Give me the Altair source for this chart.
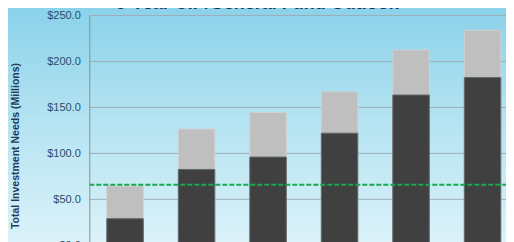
import altair as alt
import pandas as pd

years = ["FY 2014", "FY 2015", "FY 2016", "FY 2017", "FY 2018", "FY 2019"]
dark_vals = [29.0, 82.5, 96.0, 122.0, 163.5, 182.5]
total_vals = [64.5, 126.5, 144.5, 167.0, 212.5, 234.0]
threshold = [66.0]
y_ticks = [0, 50, 100, 150, 200, 250]
chart_title = "5-Year CIP/General Fund Outlook"
y_title = "Total Investment Needs (Millions)"

df = pd.DataFrame({"year": years, "dark": dark_vals, "total": total_vals})
df_rule = pd.DataFrame({"v": threshold})
df_grid = pd.DataFrame({"g": y_ticks})

PL = 81.3
PT = 7.5
W = 498 - PL
H = 226.5

x_scale = alt.Scale(domain=years, range=[0, 429], paddingInner=0.49, paddingOuter=0.245)
y_scale = alt.Scale(domain=[0, 250], range=[229.8, 0], nice=False, zero=True)

one = pd.DataFrame({"a": [0]})

bg = alt.Chart(one).mark_rect(
    color=alt.LinearGradient(
        gradient="linear",
        stops=[
            alt.GradientStop(color="#8ad2ea", offset=0),
            alt.GradientStop(color="#b2e2f1", offset=0.45),
            alt.GradientStop(color="#dbf2f9", offset=1),
        ],
        x1=0, x2=0, y1=0, y2=1,
    )
).encode(
    x=alt.value(-PL), x2=alt.value(W),
    y=alt.value(-PT), y2=alt.value(H),
)

corner = alt.Chart(one).mark_rect(
    color=alt.RadialGradient(
        gradient="radial",
        stops=[
            alt.GradientStop(color="rgba(22,128,204,0.95)", offset=0),
            alt.GradientStop(color="rgba(22,128,204,0.4)", offset=0.5),
            alt.GradientStop(color="rgba(22,128,204,0)", offset=1),
        ],
        x1=1, y1=0, x2=1, y2=0, r1=0, r2=0.13,
    )
).encode(
    x=alt.value(-PL), x2=alt.value(W),
    y=alt.value(-PT), y2=alt.value(H),
)

grid = alt.Chart(df_grid).mark_rule(color="#9eaeb7", strokeWidth=1).encode(
    y=alt.Y("g:Q", scale=y_scale),
    x=alt.value(0), x2=alt.value(W),
)

y_axis = alt.Axis(
    values=y_ticks, format="$,.1f", title=y_title,
    grid=False, zindex=1,
    domain=True, domainColor="#8a8f93", domainWidth=1,
    ticks=False, labelPadding=9,
    labelFont="Liberation Sans", labelFontSize=11, labelColor="#2b4c6d",
    titleFont="Liberation Sans", titleFontSize=10.5, titleFontWeight="bold", titleColor="#1f3c5c",
    titleAngle=-90, titleX=-74, titleY=130, titleAlign="center", titleBaseline="middle",
)

base = alt.Chart(df)

gray_bars = base.mark_bar(color="#bfbfbf", stroke="#cdd1d3", strokeWidth=1).encode(
    x=alt.X("year:N", scale=x_scale, sort=years, axis=None),
    y=alt.Y("total:Q", scale=y_scale, axis=y_axis),
)

dark_bars = base.mark_bar(color="#404040", stroke="#5f6b70", strokeWidth=1).encode(
    x=alt.X("year:N", scale=x_scale, sort=years, axis=None),
    y=alt.Y("dark:Q", scale=y_scale),
)

rule = alt.Chart(df_rule).mark_rule(color="#19a84f", strokeWidth=2, strokeDash=[5, 2]).encode(
    y=alt.Y("v:Q", scale=y_scale),
    x=alt.value(0), x2=alt.value(W),
)

title_text = alt.Chart(pd.DataFrame({"t": [chart_title]})).mark_text(
    font="Liberation Sans", fontSize=18, fontWeight="bold", color="#1f3350",
    align="center", baseline="alphabetic",
).encode(
    text="t:N", x=alt.value(168), y=alt.value(-7),
)

chart = alt.layer(bg, corner, grid, gray_bars, dark_bars, rule, title_text).properties(
    width=W, height=H,
    padding={"left": PL, "top": PT, "right": 0, "bottom": 0},
    autosize=alt.AutoSizeParams(type="none"),
).configure_view(stroke=None)

chart.save("out.html", embed_options={"renderer": "svg", "actions": False})
